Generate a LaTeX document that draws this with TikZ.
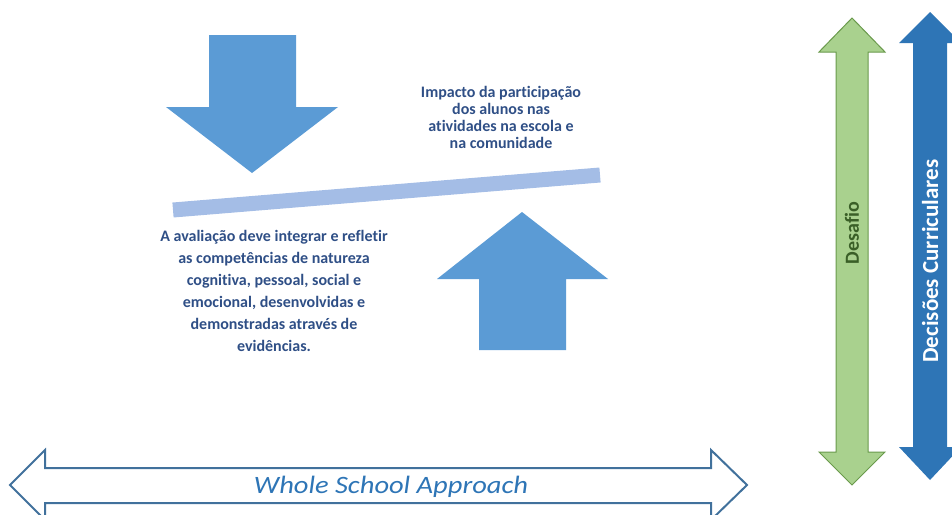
\documentclass[tikz,border=0pt]{standalone}
\usepackage{fontspec}
\setmainfont{Carlito}[Ligatures=NoCommon]
\newfontfamily\widefont{Carlito}[Ligatures=NoCommon, FakeStretch=1.14]
\usepackage{tikz}
\usetikzlibrary{positioning}

\definecolor{arrowblue}{HTML}{5B9BD5}
\definecolor{barblue}{HTML}{A4BDE6}
\definecolor{textblue}{HTML}{2F4F86}
\definecolor{deepblue}{HTML}{2E75B6}
\definecolor{lightgreen}{HTML}{A9D18E}
\definecolor{edgegreen}{HTML}{6A9A4C}
\definecolor{darkgreen}{HTML}{3A5F27}
\definecolor{outlineblue}{HTML}{41719C}

\begin{document}
\begin{tikzpicture}[x=1pt, y=-1pt,
    note/.style={text=textblue, font=\bfseries\fontsize{16}{22}\selectfont, align=center, inner sep=0pt},
    sidelabel/.style={rotate=90, font=\bfseries\fontsize{23}{26}\selectfont}]
    \useasboundingbox (0,0) rectangle (952,514);
    \clip (0,0) rectangle (952,514);

    % big arrows and bar
    \fill[arrowblue] (209,35) -- (296,35) -- (296,107) -- (338,107) -- (252,173)
        -- (166,107) -- (209,107) -- cycle;
    \fill[arrowblue] (479,350) -- (566,350) -- (566,279) -- (608,279) -- (522,212)
        -- (437,279) -- (479,279) -- cycle;
    \draw[barblue, line width=15pt] (173,210) -- (600,175);

    \node[note, font=\bfseries\fontsize{16}{17}\selectfont] (impacto) at (501,117)
        {Impacto da participação\\dos alunos nas\\atividades na escola e\\na comunidade};
    \node[note] (avaliacao) at (274,291)
        {A avaliação deve integrar e refletir\\as competências de natureza\\cognitiva, pessoal, social e\\emocional, desenvolvidas e\\demonstradas através de\\evidências.};

    % side arrows
    \filldraw[fill=lightgreen, draw=edgegreen, line width=1pt]
        (852,18) -- (885,52) -- (868,52) -- (868,452) -- (885,452) -- (852,485)
        -- (819,452) -- (836,452) -- (836,52) -- (819,52) -- cycle;
    \fill[deepblue]
        (930,12) -- (961,43) -- (947,43) -- (947,447) -- (961,447) -- (930,480)
        -- (899,447) -- (913,447) -- (913,43) -- (899,43) -- cycle;
    \node[sidelabel, text=darkgreen, font=\bfseries\fontsize{20}{24}\selectfont] (desafio) at (852,233) {Desafio};
    \node[sidelabel, text=white] (decisoes) at (930,261) {Decisões Curriculares};

    % whole school arrow
    \draw[outlineblue, line width=2pt, line join=miter]
        (10,485) -- (45,450) -- (45,468) -- (711,468) -- (711,450) -- (747,485)
        -- (711,520) -- (711,503) -- (45,503) -- (45,520) -- cycle;
    \node[text=deepblue, font=\widefont\itshape\fontsize{25}{28}\selectfont, anchor=base] (wsa) at (391,493) {Whole School Approach};
\end{tikzpicture}
\end{document}
